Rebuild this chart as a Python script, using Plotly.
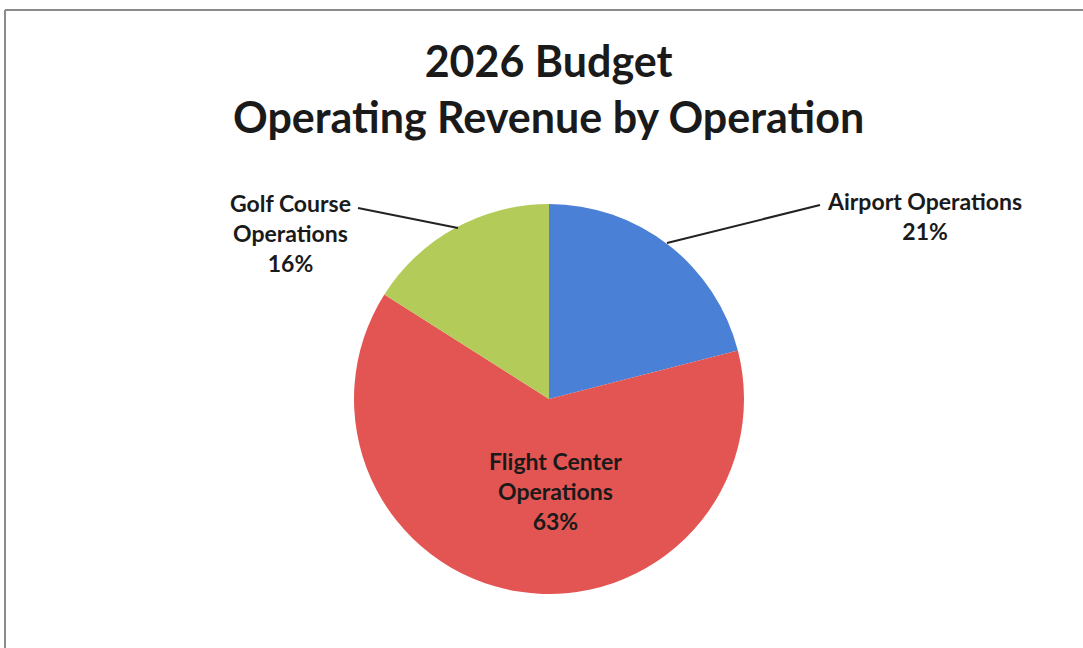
import plotly.graph_objects as go

# Operating revenue share by operation (percent of total)
operations = ["Airport Operations", "Flight Center Operations", "Golf Course Operations"]
shares = [21, 63, 16]
slice_colors = ["#4a80d6", "#e35552", "#b3cb58"]

# Label text lines for each slice
label_lines = [["Airport Operations"], ["Flight Center", "Operations"], ["Golf Course", "Operations"]]

W, H = 1083, 648
FONT = "Lato"

fig = go.Figure(
    go.Pie(
        labels=operations,
        values=shares,
        sort=False,
        direction="clockwise",
        rotation=0,
        marker=dict(colors=slice_colors, line=dict(width=0)),
        textinfo="none",
        hoverinfo="label+percent",
        showlegend=False,
        domain=dict(x=[(549 - 195) / W, (549 + 195) / W], y=[(249 - 195) / H, (249 + 195) / H]),
    )
)

total = sum(shares)


def label_text(i):
    pct = round(100 * shares[i] / total)
    return "<br>".join(label_lines[i] + [f"{pct}%"])


# label anchor positions in pixels (centre x, top y)
label_pos = [(924, 185), (555, 445), (290, 187)]

annotations = []
for i, (px, py) in enumerate(label_pos):
    annotations.append(
        dict(
            x=px / W, y=1 - py / H, xref="paper", yref="paper",
            xanchor="center", yanchor="top", showarrow=False,
            text=label_text(i), align="center",
            font=dict(family=FONT, size=23, color="#1a1a1a", weight="bold"),
        )
    )

annotations.append(
    dict(
        x=548 / W, y=1 - 33 / H, xref="paper", yref="paper",
        xanchor="center", yanchor="top", showarrow=False,
        text="2026 Budget<br>Operating Revenue by Operation", align="center",
        font=dict(family=FONT, size=43, color="#1a1a1a", weight="bold"),
    )
)

shapes = [
    # frame lines
    dict(type="line", xref="paper", yref="paper", x0=5 / W, x1=1, y0=1 - 10 / H, y1=1 - 10 / H,
         line=dict(color="#8a8a8a", width=2)),
    dict(type="line", xref="paper", yref="paper", x0=5 / W, x1=5 / W, y0=0, y1=1 - 10 / H,
         line=dict(color="#8a8a8a", width=2)),
    # leader lines
    dict(type="line", xref="paper", yref="paper", x0=667 / W, y0=1 - 243 / H, x1=820 / W, y1=1 - 205 / H,
         line=dict(color="#222222", width=2)),
    dict(type="line", xref="paper", yref="paper", x0=358 / W, y0=1 - 208 / H, x1=458 / W, y1=1 - 228 / H,
         line=dict(color="#222222", width=2)),
]

fig.update_layout(
    width=W, height=H,
    margin=dict(l=0, r=0, t=0, b=0),
    paper_bgcolor="white", plot_bgcolor="white",
    annotations=annotations, shapes=shapes,
)

fig.write_html("out.html")
